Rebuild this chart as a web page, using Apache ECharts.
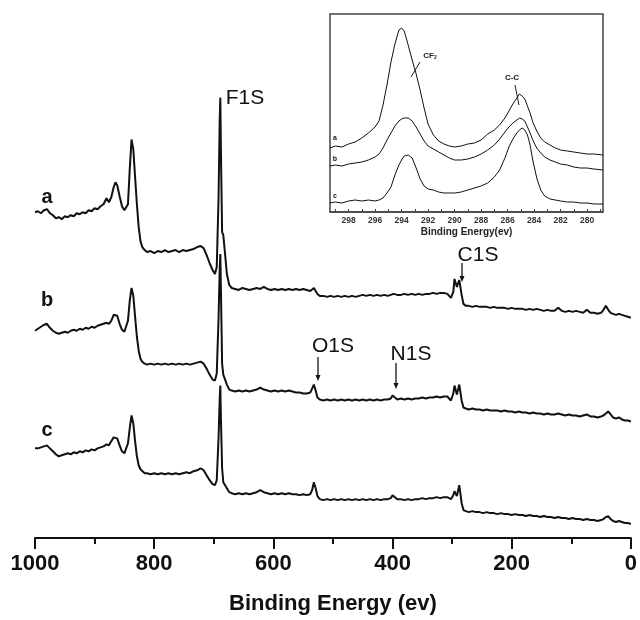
<!DOCTYPE html>
<html>
<head>
<meta charset="utf-8">
<script src="https://cdn.jsdelivr.net/npm/echarts@6/dist/echarts.min.js"></script>
<style>
html,body{margin:0;padding:0;background:#fff;}
#chart{width:640px;height:620px;}
</style>
</head>
<body>
<div id="chart"></div>
<script>
// ---------- DATA ----------
// Survey spectra: binding energy (eV) and intensity (a.u., offset/stacked)
const surveyBE = [
 1000,995,990,985,980,975,970,965,960,955,
 950,945,940,935,930,925,920,915,910,905,
 900,895,890,885,880,876,872,868,865,862,
 858,854,850,847,844,841,838,835,832,829,
 826,823,820,816,812,806,800,794,788,782,
 776,770,764,758,752,746,740,734,728,722,
 717,712,707,702,698,695,692,690,689,688,
 686,684,681,678,674,670,664,658,652,646,
 640,634,628,622,616,610,604,598,592,586,
 580,574,568,562,556,550,544,538,535,532,
 529,526,522,516,510,504,498,492,486,480,
 474,468,462,456,450,444,438,432,426,420,
 414,408,403,400,398,396,392,386,380,374,
 368,362,356,350,344,338,332,326,320,314,
 308,302,298,296,294,292,290,288,286,284,
 281,277,272,266,260,254,248,242,236,230,
 224,218,212,206,200,194,188,182,176,170,
 164,158,152,146,140,134,128,122,116,110,
 104,98,92,86,80,74,68,62,56,50,
 46,42,38,34,30,25,20,15,10,5,
 0];
const surveyA = [
 327,328,326,329,330,326,324,321,322,320,
 323,322,324,323,326,325,327,326,329,328,
 331,330,333,335,341,337,342,352,357,354,
 343,333,329,328,335,370,400,390,362,335,
 312,298,292,289,287,288,286,288,287,289,
 287,288,289,287,289,288,289,290,292,293,
 291,284,276,269,265,272,340,420,442,390,
 307,304,285,265,254,251,250,249,251,250,
 249,250,251,250,252,250,249,250,249,250,
 249,250,249,250,249,250,249,248,249,251,
 249,245,243,243,242,243,242,243,242,243,
 242,243,242,243,244,243,244,243,244,243,
 244,243,244,244,245,244,244,244,245,244,
 245,244,245,244,245,245,246,245,246,246,
 245,241,247,260,261,252,250,259,260,244,
 235,233,233,232,233,232,232,232,231,232,
 231,231,231,230,231,230,230,230,229,230,
 229,230,229,228,229,228,228,231,228,227,
 228,227,228,227,226,229,226,226,225,226,
 229,233,229,226,225,224,225,224,223,222,
 221];
const surveyB = [
 208,210,212,214,215,211,208,206,205,206,
 207,206,208,209,208,210,209,211,210,212,
 211,213,214,215,216,215,218,224,226,223,
 215,209,207,208,218,238,251,243,222,202,
 188,180,177,175,174,175,174,175,174,175,
 174,175,174,175,174,175,174,175,176,177,
 175,170,164,159,158,165,220,270,285,250,
 175,164,162,154,149,148,147,148,147,148,
 147,148,149,151,149,148,147,148,147,148,
 147,148,147,146,146,145,145,146,150,154,
 148,141,139,138,139,138,139,138,139,138,
 139,138,139,138,139,138,139,138,139,138,
 139,139,140,143,144,141,139,140,139,140,
 139,140,140,141,140,141,141,142,141,142,
 142,138,145,153,152,144,145,154,153,138,
 131,130,129,130,129,129,128,129,128,128,
 128,127,128,127,127,126,127,126,126,125,
 126,125,125,124,125,124,124,125,124,123,
 124,123,123,122,123,124,122,122,121,122,
 123,125,127,124,121,120,121,119,118,118,
 117];
const surveyC = [
 90,90,91,92,93,90,87,84,82,83,
 84,85,84,86,85,87,86,88,87,89,
 88,90,91,92,94,93,97,101,103,100,
 93,87,85,86,95,110,123,115,97,82,
 73,69,67,65,65,64,65,64,65,64,
 65,64,65,64,65,66,65,67,68,70,
 68,63,58,54,53,58,100,140,153,120,
 70,56,54,50,46,45,44,45,44,45,
 44,45,46,48,46,45,44,45,44,45,
 44,45,44,44,43,44,43,44,48,56,
 50,42,39,38,39,38,39,38,39,38,
 39,38,39,38,39,38,39,38,39,38,
 39,39,40,43,45,41,39,39,38,39,
 38,39,39,40,39,40,40,41,40,41,
 41,39,43,47,46,42,44,53,52,35,
 28,27,26,27,26,26,25,26,25,25,
 24,25,24,24,23,24,23,23,22,23,
 22,22,21,22,21,21,20,21,20,20,
 19,20,19,19,18,19,18,18,17,18,
 19,21,22,19,17,16,17,16,15,15,
 14];

// Inset: C1s high-resolution spectra
const insetBE = [
 299.4,299,298.5,298,297.5,297,296.5,296,295.7,295.4,
 295.1,294.8,294.5,294.2,294.0,293.8,293.5,293.2,292.9,292.6,
 292.3,292.0,291.6,291.2,290.8,290.4,290.0,289.5,289.0,288.5,
 288.0,287.5,287.0,286.6,286.2,285.9,285.6,285.3,285.1,284.9,
 284.7,284.5,284.3,284.1,283.8,283.5,283.2,282.8,282.4,282.0,
 281.5,281.0,280.5,280.0,279.5,278.8];
const insetA = [
 64,66,65,68,70,74,79,85,91,107,
 127,150,168,182,184,181,167,152,138,122,
 104,88,77,71,68,66,65,66,68,69,
 72,78,82,87,94,101,108,114,118,116,
 113,106,99,90,81,74,70,67,64,62,
 61,60,59,58,58,57];
const insetB = [
 46,47,46,48,49,50,52,55,58,64,
 72,79,86,91,93,94,94,91,85,78,
 71,66,63,60,57,54,52,52,53,55,
 58,62,67,73,80,85,89,92,94,93,
 91,85,79,72,64,59,55,52,50,48,
 47,45,44,44,43,42];
const insetC = [
 9,10,9,11,12,11,12,11,12,14,
 19,25,37,47,52,56,57,54,44,33,
 26,23,22,20,19,19,19,20,22,24,
 26,29,35,42,54,65,73,79,82,84,
 82,77,67,52,34,22,16,13,12,11,
 10,10,9,9,8,8];

const sampleLabels = ['a','b','c'];
const peakLabels = ['F1S','C1S','O1S','N1S'];
const insetPeakLabels = ['CF','C-C'];
const mainTitle = 'Binding Energy (ev)';
const insetTitle = 'Binding Energy(ev)';
const insetTickValues = [280,282,284,286,288,290,292,294,296,298];
const insetMinorTicks = [279,280,281,282,283,284,285,286,287,288,289,290,291,292,293,294,295,296,297,298,299];

// ---------- CHART ----------
const FONT = "'Liberation Sans', Arial, Helvetica, sans-serif";
const zip = (xs, ys) => xs.map((x, i) => [x, ys[i]]);
const chart = echarts.init(document.getElementById('chart'), null, {renderer: 'canvas'});

function arrow(x, y1, y2) {
  return [
    {type:'line', shape:{x1:x, y1:y1, x2:x, y2:y2-5}, style:{stroke:'#111', lineWidth:1.3}, z:100},
    {type:'polygon', shape:{points:[[x-2.5, y2-6],[x+2.5, y2-6],[x, y2]]}, style:{fill:'#111'}, z:100}
  ];
}
function txt(x, y, t, size, weight) {
  return {type:'text', x:x, y:y, z:100,
    style:{text:t, font: (weight||'normal') + ' ' + size + 'px ' + FONT, fill:'#111', align:'center', verticalAlign:'middle'}};
}

const mainLine = {color:'#111', width:2};
const insetLine = {color:'#111', width:1};

const option = {
  animation: false,
  backgroundColor: '#fff',
  grid: [
    {left:35, right:5, top:0, bottom:80},
    {left:330, top:14, width:273, height:198, show:true, borderColor:'#444', borderWidth:1.5, backgroundColor:'#fff', z:10}
  ],
  xAxis: [
    {gridIndex:0, type:'value', min:0, max:1000, interval:200, inverse:true,
     name: mainTitle, nameLocation:'middle', nameGap:55,
     nameTextStyle:{fontFamily:FONT, fontWeight:'bold', fontSize:22, color:'#111'},
     axisLine:{show:true, onZero:false, lineStyle:{color:'#111', width:2}},
     axisTick:{show:true, length:11, lineStyle:{color:'#111', width:2}},
     minorTick:{show:true, splitNumber:2, length:6, lineStyle:{color:'#111', width:2}},
     axisLabel:{fontFamily:FONT, fontWeight:'bold', fontSize:22, color:'#111', margin:15,
                formatter: v => String(v)},
     splitLine:{show:false}},
    {gridIndex:1, type:'value', min:278.8, max:299.4, inverse:true,
     name: insetTitle, nameLocation:'middle', nameGap:15,
     nameTextStyle:{fontFamily:FONT, fontWeight:'bold', fontSize:10, color:'#222'},
     axisLine:{show:true, onZero:false, lineStyle:{color:'#444', width:1.5}},
     axisTick:{show:true, inside:true, length:3, customValues: insetMinorTicks, lineStyle:{color:'#444', width:1}},
     axisLabel:{fontFamily:FONT, fontWeight:'bold', fontSize:8.5, color:'#333', margin:4, customValues: insetTickValues,
                formatter: v => String(v)},
     splitLine:{show:false}, z:11}
  ],
  yAxis: [
    {gridIndex:0, type:'value', min:0, max:540, show:false},
    {gridIndex:1, type:'value', min:0, max:198, show:false}
  ],
  series: [
    {type:'line', xAxisIndex:0, yAxisIndex:0, data: zip(surveyBE, surveyA), showSymbol:false, lineStyle:mainLine, itemStyle:{color:'#111'}},
    {type:'line', xAxisIndex:0, yAxisIndex:0, data: zip(surveyBE, surveyB), showSymbol:false, lineStyle:mainLine, itemStyle:{color:'#111'}},
    {type:'line', xAxisIndex:0, yAxisIndex:0, data: zip(surveyBE, surveyC), showSymbol:false, lineStyle:mainLine, itemStyle:{color:'#111'}},
    {type:'line', xAxisIndex:1, yAxisIndex:1, data: zip(insetBE, insetA), showSymbol:false, lineStyle:insetLine, itemStyle:{color:'#111'}, z:12},
    {type:'line', xAxisIndex:1, yAxisIndex:1, data: zip(insetBE, insetB), showSymbol:false, lineStyle:insetLine, itemStyle:{color:'#111'}, z:12},
    {type:'line', xAxisIndex:1, yAxisIndex:1, data: zip(insetBE, insetC), showSymbol:false, lineStyle:insetLine, itemStyle:{color:'#111'}, z:12}
  ],
  graphic: [
    // sample labels on survey
    txt(47, 197, sampleLabels[0], 20, 'bold'),
    txt(47, 300, sampleLabels[1], 20, 'bold'),
    txt(47, 430, sampleLabels[2], 20, 'bold'),
    // peak labels
    txt(245, 98, peakLabels[0], 21),
    txt(478, 255, peakLabels[1], 21),
    txt(333, 346, peakLabels[2], 21),
    txt(411, 354, peakLabels[3], 21),
    ...arrow(462, 263, 282),
    ...arrow(318, 357, 381),
    ...arrow(396, 363, 389),
    // inset labels
    {type:'text', x:430, y:56, z:100, style:{
      text:'{m|' + insetPeakLabels[0] + '}{s|2}', align:'center', verticalAlign:'middle',
      rich:{m:{font:'bold 8px ' + FONT, fill:'#222'}, s:{font:'bold 5px ' + FONT, fill:'#222', verticalAlign:'bottom', padding:[4,0,0,0]}}}},
    {type:'line', shape:{x1:411, y1:77, x2:420, y2:62}, style:{stroke:'#222', lineWidth:1}, z:100},
    txt(512, 78, insetPeakLabels[1], 8, 'bold'),
    {type:'line', shape:{x1:515, y1:85, x2:519, y2:105}, style:{stroke:'#222', lineWidth:1}, z:100},
    txt(335, 138, sampleLabels[0], 7, 'bold'),
    txt(335, 159, sampleLabels[1], 7, 'bold'),
    txt(335, 196, sampleLabels[2], 7, 'bold')
  ]
};
chart.setOption(option);
</script>
</body>
</html>
